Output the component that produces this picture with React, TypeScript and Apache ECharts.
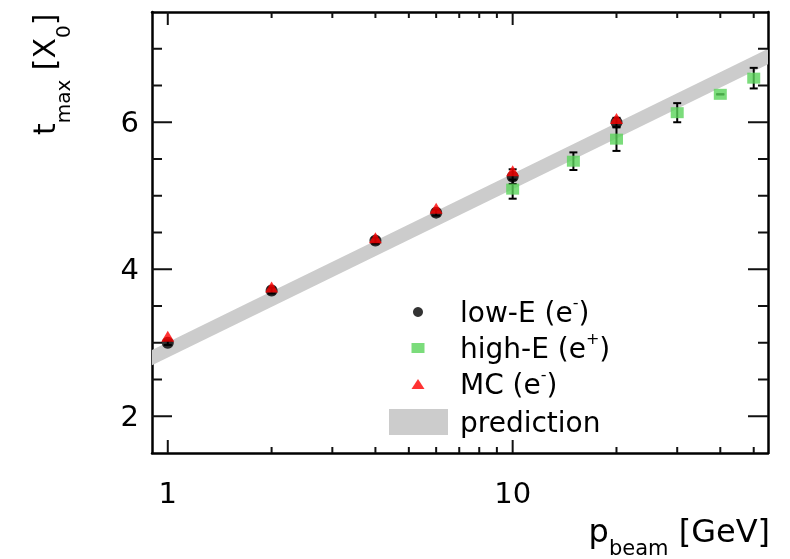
import React, { useEffect, useRef } from 'react';
import * as echarts from 'echarts';

const FONT = 'DejaVu Sans';

// low-E (e-) data
const lowEP = [1, 2, 4, 6, 10, 20];
const lowET = [3.0, 3.71, 4.39, 4.77, 5.26, 6.0];
const lowEErr = [0.03, 0.04, 0.04, 0.04, 0.1, 0.06];
// high-E (e+) data
const highEP = [10, 15, 20, 30, 40, 50];
const highET = [5.09, 5.47, 5.77, 6.13, 6.38, 6.6];
const highEErr = [0.13, 0.12, 0.16, 0.13, 0, 0.14];
// MC (e-) data
const mcP = [1, 2, 4, 6, 10, 20];
const mcT = [3.09, 3.76, 4.43, 4.83, 5.34, 6.05];
// prediction band (straight line in log p): end points
const predP = [0.8, 60];
const predT = [2.68, 6.98];
const predHalfWidth = 0.105;

const xMajorTicks = [1, 10];
const xMinorTicks = [2, 3, 4, 5, 6, 7, 8, 9, 20, 30, 40, 50];
const yMajorTicks = [2, 4, 6];
const yMinorTicks = [2.5, 3, 3.5, 4.5, 5, 5.5, 6.5, 7];

const seriesNames = ['low-E (e-)', 'high-E (e+)', 'MC (e-)', 'prediction'];
const legendLabels: Record<string, string> = {
  'low-E (e-)': 'low-E (e{sup|-})',
  'high-E (e+)': 'high-E (e{sup|+})',
  'MC (e-)': 'MC (e{sup|-})',
  prediction: 'prediction',
};

const X_MIN = 0.9;
const X_MAX = 55;
const Y_MIN = 1.5;
const Y_MAX = 7.5;

const GREEN = '#5ad35a';
const BAND = '#cccccc';
const INK = '#111111';

function xTickSeries(name: string, vals: number[], len: number) {
  return {
    type: 'custom',
    name,
    data: vals.map((v) => [v, Y_MIN, Y_MAX]),
    encode: { x: 0, y: [1, 2] },
    renderItem: (params: any, api: any) => {
      const x = api.value(0);
      const lo = api.coord([x, api.value(1)]);
      const hi = api.coord([x, api.value(2)]);
      return {
        type: 'group',
        children: [
          { type: 'line', shape: { x1: lo[0], y1: lo[1], x2: lo[0], y2: lo[1] - len }, style: { stroke: INK, lineWidth: 2 } },
          { type: 'line', shape: { x1: hi[0], y1: hi[1], x2: hi[0], y2: hi[1] + len }, style: { stroke: INK, lineWidth: 2 } },
        ],
      };
    },
  };
}

function yTickSeries(name: string, vals: number[], len: number) {
  return {
    type: 'custom',
    name,
    data: vals.map((v) => [X_MIN, X_MAX, v]),
    encode: { x: [0, 1], y: 2 },
    renderItem: (params: any, api: any) => {
      const y = api.value(2);
      const l = api.coord([api.value(0), y]);
      const r = api.coord([api.value(1), y]);
      return {
        type: 'group',
        children: [
          { type: 'line', shape: { x1: l[0], y1: l[1], x2: l[0] + len, y2: l[1] }, style: { stroke: INK, lineWidth: 2 } },
          { type: 'line', shape: { x1: r[0], y1: r[1], x2: r[0] - len, y2: r[1] }, style: { stroke: INK, lineWidth: 2 } },
        ],
      };
    },
  };
}

export default function App() {
  const ref = useRef<HTMLDivElement>(null);

  useEffect(() => {
    if (!ref.current) return;
    const chart = echarts.init(ref.current, undefined, { renderer: 'svg' });

    const axisLine = { show: true, onZero: false, lineStyle: { color: '#000', width: 2.5 } };

    const errData: number[][] = [];
    lowEP.forEach((p, i) => errData.push([p, lowET[i] - lowEErr[i], lowET[i] + lowEErr[i]]));
    highEP.forEach((p, i) => errData.push([p, highET[i] - highEErr[i], highET[i] + highEErr[i]]));

    const option: any = {
      animation: false,
      textStyle: { fontFamily: FONT },
      grid: { left: 152, top: 12, right: 22, bottom: 106 },
      xAxis: [
        {
          type: 'log',
          min: X_MIN,
          max: X_MAX,
          splitLine: { show: false },
          axisLine,
          axisTick: { show: false },
          axisLabel: {
            customValues: xMajorTicks,
            fontFamily: FONT,
            fontSize: 29,
            color: '#000',
            margin: 25,
            formatter: (v: number) => String(v),
          },
          name: 'p{sub|beam} [GeV]',
          nameLocation: 'end',
          nameGap: 2,
          nameTextStyle: {
            fontFamily: FONT,
            fontSize: 32,
            color: '#000',
            align: 'right',
            verticalAlign: 'top',
            padding: [50, 0, 0, 0],
            rich: {
              sub: { fontFamily: FONT, fontSize: 21, color: '#000', padding: [34, 0, 0, 0] },
            },
          },
        },
        {
          type: 'log',
          min: X_MIN,
          max: X_MAX,
          position: 'top',
          splitLine: { show: false },
          axisLine,
          axisTick: { show: false },
          axisLabel: { show: false },
        },
      ],
      yAxis: [
        {
          type: 'value',
          min: Y_MIN,
          max: Y_MAX,
          splitLine: { show: false },
          axisLine,
          axisTick: { show: false },
          axisLabel: {
            customValues: yMajorTicks,
            fontFamily: FONT,
            fontSize: 29,
            color: '#000',
            margin: 13,
          },
          name: 't{sub|max} [X{sub|0}]',
          nameLocation: 'end',
          nameRotate: 90,
          nameGap: -123,
          nameTextStyle: {
            fontFamily: FONT,
            fontSize: 30,
            color: '#000',
            align: 'left',
            verticalAlign: 'bottom',
            padding: [0, 0, 79, 0],
            rich: {
              sub: { fontFamily: FONT, fontSize: 20, color: '#000', padding: [38, 0, 0, 0] },
            },
          },
        },
        {
          type: 'value',
          min: Y_MIN,
          max: Y_MAX,
          position: 'right',
          splitLine: { show: false },
          axisLine,
          axisTick: { show: false },
          axisLabel: { show: false },
        },
      ],
      legend: [
        {
          orient: 'vertical',
          left: 411.5,
          top: 294,
          padding: 0,
          itemWidth: 74,
          itemHeight: 10,
          itemGap: 4,
          selectedMode: false,
          data: [
            { name: seriesNames[0], icon: 'circle', itemStyle: { color: '#000' } },
            { name: seriesNames[1], icon: 'path://M0,0h13v10h-13z', itemStyle: { color: GREEN } },
            { name: seriesNames[2], icon: 'path://M6.5,0L13,10L0,10z', itemStyle: { color: '#ff0000' } },
          ],
          formatter: (n: string) => legendLabels[n] || n,
          textStyle: {
            fontFamily: FONT,
            fontSize: 28,
            color: '#000',
            rich: {
              sup: { fontFamily: FONT, fontSize: 16, color: '#000', padding: [0, 0, 20, 0] },
            },
          },
        },
        {
          orient: 'vertical',
          left: 389,
          top: 408,
          padding: 0,
          itemWidth: 59,
          itemHeight: 26,
          selectedMode: false,
          data: [{ name: seriesNames[3], icon: 'rect', itemStyle: { color: BAND } }],
          formatter: (n: string) => legendLabels[n] || n,
          textStyle: { fontFamily: FONT, fontSize: 28, color: '#000', padding: [0, 0, 0, 7] },
        },
      ],
      series: [
        {
          name: seriesNames[3],
          type: 'custom',
          clip: true,
          itemStyle: { color: BAND },
          data: [[predP[0], predT[0], predP[1], predT[1]]],
          encode: { x: [0, 2], y: [1, 3] },
          renderItem: (params: any, api: any) => {
            const x0 = api.value(0);
            const y0 = api.value(1);
            const x1 = api.value(2);
            const y1 = api.value(3);
            const pts = [
              api.coord([x0, y0 + predHalfWidth]),
              api.coord([x1, y1 + predHalfWidth]),
              api.coord([x1, y1 - predHalfWidth]),
              api.coord([x0, y0 - predHalfWidth]),
            ];
            return { type: 'polygon', shape: { points: pts }, style: { fill: BAND } };
          },
        },
        {
          name: 'errors',
          type: 'custom',
          data: errData,
          encode: { x: 0, y: [1, 2] },
          renderItem: (params: any, api: any) => {
            const x = api.value(0);
            const lo = api.coord([x, api.value(1)]);
            const hi = api.coord([x, api.value(2)]);
            const c = 4;
            return {
              type: 'group',
              children: [
                { type: 'line', shape: { x1: lo[0], y1: lo[1], x2: hi[0], y2: hi[1] }, style: { stroke: '#000', lineWidth: 2 } },
                { type: 'line', shape: { x1: lo[0] - c, y1: lo[1], x2: lo[0] + c, y2: lo[1] }, style: { stroke: '#000', lineWidth: 2 } },
                { type: 'line', shape: { x1: hi[0] - c, y1: hi[1], x2: hi[0] + c, y2: hi[1] }, style: { stroke: '#000', lineWidth: 2 } },
              ],
            };
          },
        },
        {
          name: seriesNames[1],
          type: 'scatter',
          data: highEP.map((p, i) => [p, highET[i]]),
          symbol: 'rect',
          symbolSize: [13, 11],
          itemStyle: { color: GREEN },
        },
        {
          name: seriesNames[0],
          type: 'scatter',
          data: lowEP.map((p, i) => [p, lowET[i]]),
          symbol: 'circle',
          symbolSize: 12,
          itemStyle: { color: '#000' },
        },
        {
          name: seriesNames[2],
          type: 'scatter',
          data: mcP.map((p, i) => [p, mcT[i]]),
          symbol: 'triangle',
          symbolSize: [13, 11],
          itemStyle: { color: '#ff0000' },
        },
        xTickSeries('xMajor', xMajorTicks, 13),
        xTickSeries('xMinor', xMinorTicks, 6),
        yTickSeries('yMajor', yMajorTicks, 20),
        yTickSeries('yMinor', yMinorTicks, 10),
      ],
    };

    chart.setOption(option);
    return () => chart.dispose();
  }, []);

  return <div ref={ref} style={{ position: 'fixed', left: 0, top: 0, width: 790, height: 559 }} />;
}
